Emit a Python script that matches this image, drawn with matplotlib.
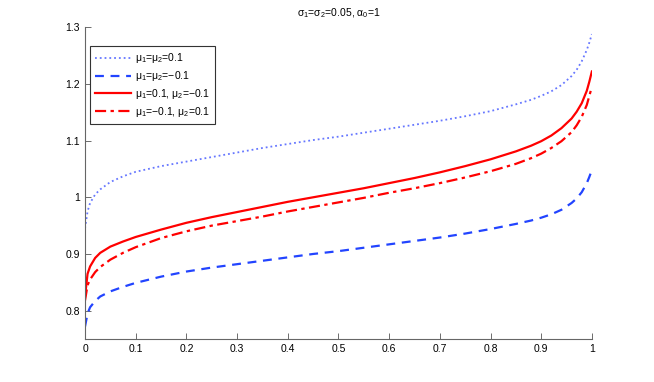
import numpy as np
import matplotlib.pyplot as plt

plt.rcParams['font.family'] = ['Liberation Sans', 'DejaVu Sans']
plt.rcParams['mathtext.fontset'] = 'custom'
plt.rcParams['mathtext.rm'] = 'Liberation Sans'
plt.rcParams['mathtext.it'] = 'Liberation Sans:italic'

# values
x = [0, 0.005, 0.01, 0.02, 0.03, 0.05, 0.075, 0.1, 0.15, 0.2, 0.25, 0.3, 0.35,
     0.4, 0.45, 0.5, 0.55, 0.6, 0.65, 0.7, 0.75, 0.8, 0.85, 0.88, 0.9, 0.92,
     0.94, 0.96, 0.97, 0.98, 0.99, 0.995, 1.0]
y_pp = [0.945, 0.975, 0.990, 1.005, 1.014, 1.027, 1.037, 1.045, 1.055, 1.063, 1.071,
        1.079, 1.087, 1.094, 1.101, 1.107, 1.114, 1.121, 1.128, 1.135, 1.143, 1.152,
        1.164, 1.172, 1.179, 1.187, 1.198, 1.214, 1.225, 1.240, 1.260, 1.273, 1.288]
y_mm = [0.772, 0.795, 0.806, 0.817, 0.825, 0.834, 0.842, 0.849, 0.860, 0.869, 0.876,
        0.882, 0.888, 0.894, 0.900, 0.905, 0.911, 0.917, 0.923, 0.929, 0.936, 0.944,
        0.953, 0.959, 0.964, 0.970, 0.978, 0.990, 0.998, 1.009, 1.025, 1.036, 1.048]
y_pm = [0.825, 0.865, 0.878, 0.893, 0.902, 0.913, 0.922, 0.930, 0.943, 0.955, 0.965,
        0.974, 0.983, 0.992, 1.000, 1.008, 1.016, 1.025, 1.034, 1.044, 1.055, 1.067,
        1.081, 1.091, 1.099, 1.109, 1.122, 1.139, 1.151, 1.166, 1.188, 1.204, 1.222]
y_mp = [0.818, 0.845, 0.855, 0.868, 0.877, 0.890, 0.902, 0.912, 0.928, 0.940, 0.950,
        0.958, 0.966, 0.975, 0.983, 0.991, 0.999, 1.008, 1.016, 1.025, 1.035, 1.046,
        1.059, 1.069, 1.077, 1.087, 1.099, 1.115, 1.127, 1.142, 1.163, 1.179, 1.195]

labels = [r'μ$_1$=μ$_2$=0.1', r'μ$_1$=μ$_2$=−0.1',
          r'μ$_1$=0.1, μ$_2$=−0.1', r'μ$_1$=−0.1, μ$_2$=0.1']

fig = plt.figure(figsize=(6.54, 3.82), dpi=100)
ax = fig.add_axes([0.130, 0.1126, 0.775, 0.816])

ax.plot(x, y_pp, ':', color='#6677ff', lw=1.3, label=labels[0])
ax.plot(x, y_mm, '--', color='#2244ff', lw=1.6, dashes=(4, 3), label=labels[1])
ax.plot(x, y_pm, '-', color='#ff0000', lw=1.6, label=labels[2])
ax.plot(x, y_mp, '-.', color='#ff0000', lw=1.6, dashes=(5, 2, 1.5, 2), label=labels[3])

ax.set_xlim(0, 1)
ax.set_ylim(0.75, 1.3)
ax.set_xticks(np.arange(0, 1.01, 0.1))
ax.set_xticklabels(['0', '0.1', '0.2', '0.3', '0.4', '0.5', '0.6', '0.7', '0.8', '0.9', '1'])
ax.set_yticks([0.8, 0.9, 1.0, 1.1, 1.2, 1.3])
ax.set_yticklabels(['0.8', '0.9', '1', '1.1', '1.2', '1.3'])
ax.tick_params(direction='in', length=4, labelsize=7.5, color='#555555', width=0.6)
ax.spines['top'].set_visible(False)
ax.spines['right'].set_visible(False)
for s in ['left', 'bottom']:
    ax.spines[s].set_color('#666666')
    ax.spines[s].set_linewidth(0.8)

ax.set_title(r'σ$_1$=σ$_2$=0.05, α$_0$=1', fontsize=7.5, pad=8)

leg = ax.legend(loc='upper left', bbox_to_anchor=(0.004, 0.95), fontsize=7.5,
                handlelength=3.4, handletextpad=0.4, fancybox=False, framealpha=1,
                borderpad=0.5, labelspacing=0.38, borderaxespad=0.3)
leg.get_frame().set_edgecolor('#333333')
leg.get_frame().set_linewidth(0.8)

fig.savefig('out.png', dpi=100)
